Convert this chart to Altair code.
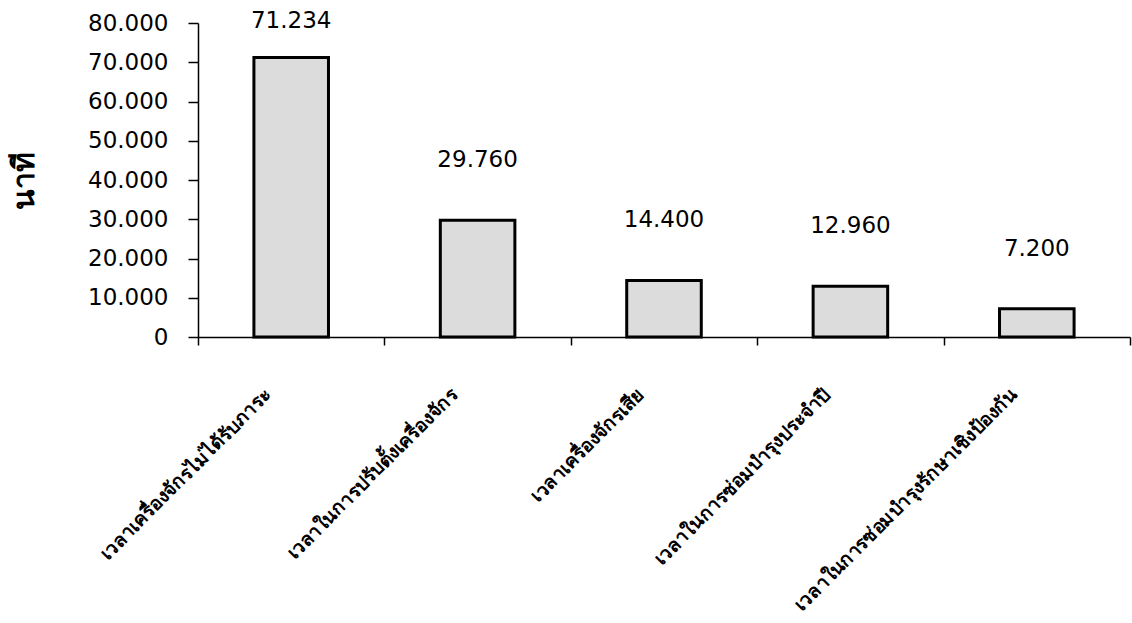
import altair as alt
import pandas as pd

categories = [
    "เวลาเครื่องจักรไม่ได้รับภาระ",
    "เวลาในการปรับตั้งเครื่องจักร",
    "เวลาเครื่องจักรเสีย",
    "เวลาในการซ่อมบำรุงประจำปี",
    "เวลาในการซ่อมบำรุงรักษาเชิงป้องกัน",
]
values = [71.234, 29.760, 14.400, 12.960, 7.200]
labels = ["71.234", "29.760", "14.400", "12.960", "7.200"]
y_ticks = [0, 10, 20, 30, 40, 50, 60, 70, 80]

df = pd.DataFrame({"cat": categories, "val": values, "lab": labels})

x_scale = alt.Scale(paddingInner=0, paddingOuter=0)
x_axis = alt.Axis(
    title=None,
    labelAngle=-45,
    labelAlign="right",
    labelBaseline="top",
    labelFontSize=19,
    labelFontWeight="bold",
    labelColor="black",
    labelPadding=40,
    labelOffset=-30,
    labelLimit=600,
    labelOverlap=False,
    tickBand="extent",
    tickSize=8,
    tickColor="black",
    tickWidth=1.5,
    domainColor="black",
    domainWidth=1.5,
)

y_scale = alt.Scale(domain=[0, 80], nice=False)
y_axis = alt.Axis(
    title="นาที",
    titleFontSize=30,
    titleFontWeight="bold",
    titleColor="black",
    titlePadding=48,
    values=y_ticks,
    tickCount=9,
    labelOverlap=False,
    labelExpr="datum.value == 0 ? '0' : format(datum.value, '.3f')",
    labelFont="DejaVu Sans",
    labelFontSize=23,
    labelColor="black",
    labelPadding=20,
    tickSize=10,
    tickColor="black",
    tickWidth=1.5,
    domainColor="black",
    domainWidth=1.5,
    grid=False,
)

bars = alt.Chart(df).mark_bar(
    width={"band": 0.4},
    fill="#dcdcdc",
    stroke="black",
    strokeWidth=3,
).encode(
    x=alt.X("cat:N", sort=categories, scale=x_scale, axis=x_axis),
    y=alt.Y("val:Q", scale=y_scale, axis=y_axis),
)

text = alt.Chart(df).transform_calculate(
    ypos="min(datum.val + 15.3, 80.5)"
).mark_text(
    font="DejaVu Sans",
    fontSize=23,
    color="black",
    baseline="middle",
).encode(
    x=alt.X("cat:N", sort=categories, scale=x_scale, axis=x_axis),
    y=alt.Y("ypos:Q", scale=y_scale, axis=y_axis),
    text="lab:N",
)

chart = (
    alt.layer(bars, text)
    .properties(
        width=932,
        height=314,
        autosize=alt.AutoSizeParams(type="none"),
        padding={"left": 198, "top": 23, "right": 2, "bottom": 286},
        view=alt.ViewBackground(strokeWidth=0, stroke="transparent"),
    )
    .configure_view(stroke="transparent", strokeWidth=0)
    .configure(font="Liberation Sans", background="white")
)

chart.save("out.html", embed_options={"renderer": "svg", "actions": False})
